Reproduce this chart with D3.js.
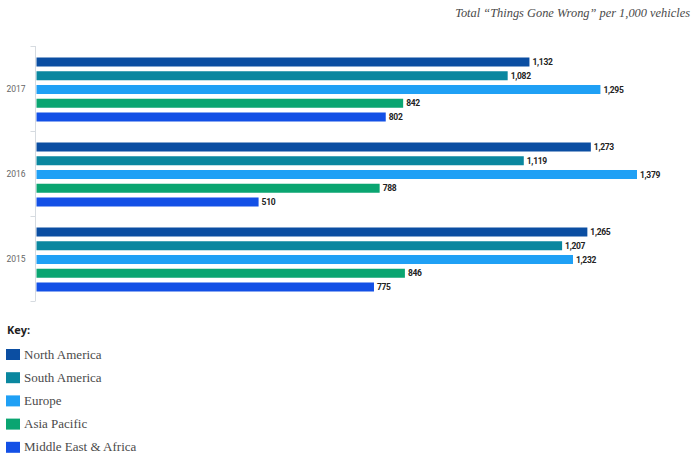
<!DOCTYPE html>
<html>
<head>
<meta charset="utf-8">
<script src="https://cdn.jsdelivr.net/npm/d3@7"></script>
<style>
  html, body { margin: 0; padding: 0; background: #fff; }
  svg { display: block; }
</style>
</head>
<body>
<svg id="chart" width="696" height="457"></svg>
<script>
// Total "Things Gone Wrong" per 1,000 vehicles, by region and year
const years = ["2017", "2016", "2015"];
const regions = ["North America", "South America", "Europe", "Asia Pacific", "Middle East & Africa"];
const colors = ["#0b4ea2", "#0a879f", "#1fa0f5", "#0aa571", "#1350e6"];
const values2017 = [1132, 1082, 1295, 842, 802];
const values2016 = [1273, 1119, 1379, 788, 510];
const values2015 = [1265, 1207, 1232, 846, 775];
const valuesByYear = { "2017": values2017, "2016": values2016, "2015": values2015 };

const svg = d3.select("#chart");
const fmt = d3.format(",");

const x = d3.scaleLinear().domain([0, 1379]).range([36.5, 637]);
const yGroup = d3.scaleBand().domain(years).range([46, 301]).padding(0);
const yInner = d3.scaleBand().domain(regions).range([11.5, 75.5]).paddingInner(0.345).paddingOuter(0);
const color = d3.scaleOrdinal().domain(regions).range(colors);

// Title
svg.append("text")
  .attr("x", 690).attr("y", 17)
  .attr("text-anchor", "end")
  .attr("font-family", "Liberation Serif, serif")
  .attr("font-style", "italic")
  .attr("font-size", 12.4)
  .attr("fill", "#4a4a4a")
  .text("Total \u201CThings Gone Wrong\u201D per 1,000 vehicles");

// Category axis with group boundaries
const axisG = svg.append("g").attr("transform", "translate(35.5,0)");
axisG.append("line")
  .attr("y1", 46).attr("y2", 301)
  .attr("stroke", "#d6dbe0").attr("stroke-width", 1);
const bounds = years.map(y => yGroup(y)).concat([yGroup(years[years.length - 1]) + yGroup.bandwidth()]);
axisG.selectAll("line.tick").data(bounds).join("line")
  .attr("class", "tick")
  .attr("x1", -5).attr("x2", 0)
  .attr("y1", d => Math.round(d) + 0.5).attr("y2", d => Math.round(d) + 0.5)
  .attr("stroke", "#d6dbe0");

svg.selectAll("text.year").data(years).join("text")
  .attr("class", "year")
  .attr("x", 16).attr("y", d => yGroup(d) + yGroup.bandwidth() / 2 + 3)
  .attr("text-anchor", "middle")
  .attr("font-family", "Roboto, sans-serif")
  .attr("font-size", 8.5)
  .attr("fill", "#666")
  .text(d => d);

// Bars and value labels
const groups = svg.selectAll("g.year").data(years).join("g")
  .attr("class", "year")
  .attr("transform", d => `translate(0,${yGroup(d)})`);

groups.selectAll("rect").data(d => valuesByYear[d].map((v, i) => ({ region: regions[i], value: v })))
  .join("rect")
  .attr("x", x(0))
  .attr("y", d => yInner(d.region))
  .attr("width", d => x(d.value) - x(0))
  .attr("height", yInner.bandwidth())
  .attr("fill", d => color(d.region));

groups.selectAll("text").data(d => valuesByYear[d].map((v, i) => ({ region: regions[i], value: v })))
  .join("text")
  .attr("x", d => x(d.value) + 3)
  .attr("y", d => yInner(d.region) + yInner.bandwidth() / 2 + 3)
  .attr("font-family", "Roboto, sans-serif")
  .attr("font-weight", 700)
  .attr("font-size", 8.5)
  .attr("letter-spacing", -0.3)
  .attr("fill", "#222")
  .text(d => fmt(d.value));

// Legend
svg.append("text")
  .attr("x", 7).attr("y", 334)
  .attr("font-family", "Open Sans, sans-serif")
  .attr("font-weight", 700)
  .attr("font-size", 11)
  .attr("fill", "#222")
  .text("Key:");

const legend = svg.selectAll("g.legend").data(regions).join("g")
  .attr("class", "legend")
  .attr("transform", (d, i) => `translate(6,${349 + i * 23.2})`);
legend.append("rect")
  .attr("width", 14).attr("height", 11)
  .attr("fill", d => color(d));
legend.append("text")
  .attr("x", 18).attr("y", 9.5)
  .attr("font-family", "Liberation Serif, serif")
  .attr("font-size", 13)
  .attr("fill", "#4a4a4a")
  .text(d => d);
</script>
</body>
</html>
